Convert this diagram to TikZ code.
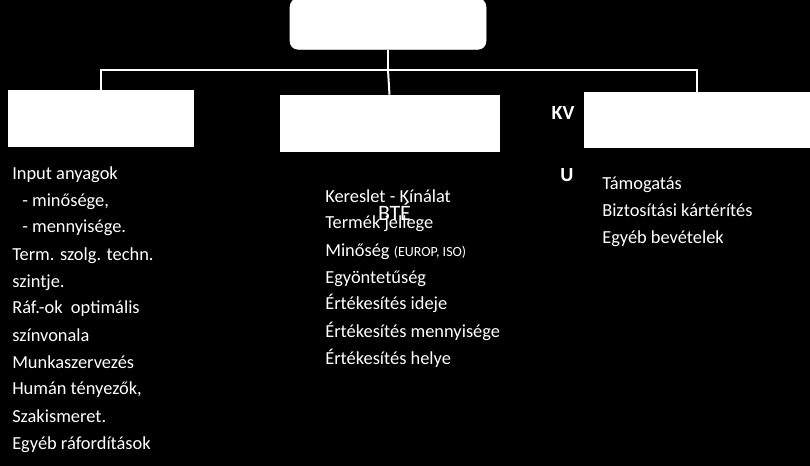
\documentclass[tikz,border=0pt]{standalone}
\usepackage{fontspec}
\setmainfont{Carlito}
\usepackage{tikz}

\tikzset{
  box/.style={draw=white,fill=white,inner sep=0pt},
  link/.style={draw=white,line width=1.5pt},
  list/.style={text=white,anchor=base west,align=left,inner sep=0pt,
    font=\fontsize{13.8}{20.25}\selectfont},
  tag/.style={text=white,anchor=base,inner sep=0pt,font=\fontsize{15}{18}\selectfont\bfseries}
}

\begin{document}
\begin{tikzpicture}[x=0.75pt,y=-0.75pt]
    \fill[black] (0,0) rectangle (810,466);
    \useasboundingbox (0,0) rectangle (810,466);
    \node[box,rounded corners=6pt,minimum width=147pt,minimum height=38pt] (top) at (388,24) {};
    \node[box,minimum width=138.75pt,minimum height=42pt] (left) at (100.5,118) {};
    \node[box,minimum width=164.25pt,minimum height=42pt] (middle) at (389.5,123) {};
    \node[box,minimum width=169.5pt,minimum height=41.25pt] (right) at (697,119.5) {};
    \coordinate (bus) at (388,70);
    \draw[link] (top.south) -- (bus);
    \draw[link] (bus) -| (left.north);
    \draw[link] (bus) -- (middle.north);
    \draw[link] (bus) -| (right.north);
    \node[tag] (kv) at (563,120) {KV};
    \node[tag] (u) at (567,182) {U};
    % base = baseline of the last line
    \node[list] (inputs) at (12,449) {Input anyagok\\
      \hspace{7.5pt}- minősége,\\
      \hspace{7.5pt}- mennyisége.\\
      Term. szolg. techn.\\
      szintje.\\
      Ráf.-ok\ \ optimális\\
      színvonala\\
      Munkaszervezés\\
      Humán tényezők,\\
      Szakismeret.\\
      Egyéb ráfordítások};
    \node[list] (market) at (325,364) {Kereslet - Kínálat\\
      Termék jellege\\
      Minőség {\fontsize{10.5}{12}\selectfont(EUROP, ISO)}\\
      Egyöntetűség\\
      Értékesítés ideje\\
      Értékesítés mennyisége\\
      Értékesítés helye};
    \node[text=white,anchor=base,inner sep=0pt,font=\fontsize{16.5}{19}\selectfont] (bte) at (394.5,221) {BTÉ};
    \node[list] (other) at (602,244) {Támogatás\\
      Biztosítási kártérítés\\
      Egyéb bevételek};
\end{tikzpicture}
\end{document}
